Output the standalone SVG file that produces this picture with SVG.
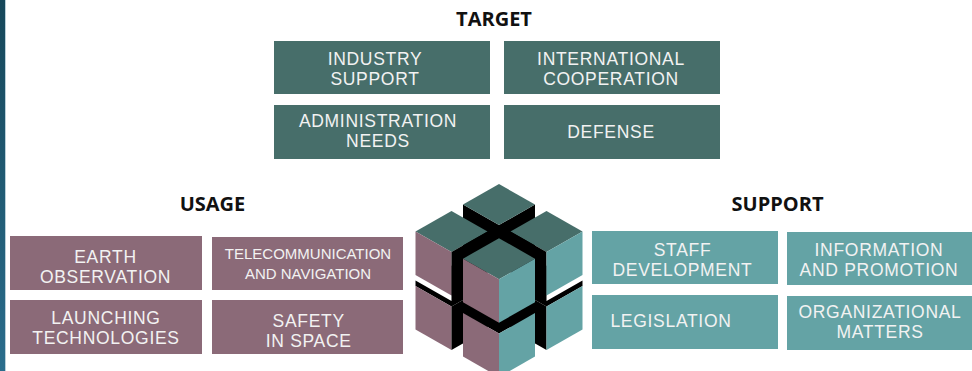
<svg xmlns="http://www.w3.org/2000/svg" width="972" height="371" viewBox="0 0 972 371">
<defs>
<linearGradient id="barGrad" x1="0" y1="0" x2="0" y2="1">
<stop offset="0" stop-color="#16475a"/>
<stop offset="1" stop-color="#2a6d8c"/>
</linearGradient>
</defs>
<style>
.hdr{font-family:"Open Sans","Liberation Sans",sans-serif;font-weight:700;font-size:20px;fill:#111;text-anchor:middle}
.lbl{font-family:"Liberation Sans",Arial,sans-serif;font-size:17.5px;letter-spacing:0.7px;fill:#f2f2f2;text-anchor:middle}
.sm{font-size:15px;letter-spacing:0}
.tgt{fill:#476e6a}
.use{fill:#8b6a78}
.sup{fill:#64a3a5}
.ct{fill:#476e6a}
.cl{fill:#8b6a78}
.cr{fill:#64a3a5}
.ck{fill:#000}
</style>
<rect width="972" height="371" fill="#ffffff"/>
<rect x="0" y="0" width="5" height="371" fill="url(#barGrad)"/>
<rect x="5" y="0" width="1" height="371" fill="#b9d0da"/>

<text id="hdr-target" class="hdr" x="494" y="26">TARGET</text>
<text id="hdr-usage" class="hdr" x="212.5" y="211">USAGE</text>
<text id="hdr-support" class="hdr" x="777.5" y="211">SUPPORT</text>

<g id="industry-support"><rect class="tgt" x="274" y="41" width="216" height="53"/><text class="lbl" x="375" y="65">INDUSTRY<tspan x="375" dy="20">SUPPORT</tspan></text></g>
<g id="international-cooperation"><rect class="tgt" x="504" y="41" width="216" height="53"/><text class="lbl" x="611" y="65">INTERNATIONAL<tspan x="611" dy="20">COOPERATION</tspan></text></g>
<g id="administration-needs"><rect class="tgt" x="274" y="105" width="216" height="54"/><text class="lbl" x="378" y="126.7">ADMINISTRATION<tspan x="378" dy="20">NEEDS</tspan></text></g>
<g id="defense"><rect class="tgt" x="504" y="105" width="216" height="54"/><text class="lbl" x="611" y="137.7">DEFENSE</text></g>

<g id="earth-observation"><rect class="use" x="10" y="236" width="192" height="54"/><text class="lbl" x="105.5" y="262.7">EARTH<tspan x="105.5" dy="20">OBSERVATION</tspan></text></g>
<g id="telecommunication"><rect class="use" x="212" y="237" width="191" height="53"/><text class="lbl sm" x="308" y="259">TELECOMMUNICATION<tspan x="308" dy="20">AND NAVIGATION</tspan></text></g>
<g id="launching-technologies"><rect class="use" x="10" y="300" width="192" height="54"/><text class="lbl" x="106" y="324.3">LAUNCHING<tspan x="106" dy="20">TECHNOLOGIES</tspan></text></g>
<g id="safety-in-space"><rect class="use" x="212" y="300" width="191" height="54"/><text class="lbl" x="308.7" y="326.7">SAFETY<tspan x="308.7" dy="20">IN SPACE</tspan></text></g>

<g id="staff-development"><rect class="sup" x="592" y="231" width="186" height="53"/><text class="lbl" x="682.5" y="255.7">STAFF<tspan x="682.5" dy="20.3">DEVELOPMENT</tspan></text></g>
<g id="information-promotion"><rect class="sup" x="787" y="232" width="185" height="53"/><text class="lbl" x="879" y="255.7">INFORMATION<tspan x="879" dy="20.3">AND PROMOTION</tspan></text></g>
<g id="legislation"><rect class="sup" x="592" y="295" width="186" height="54"/><text class="lbl" x="671" y="326.7">LEGISLATION</text></g>
<g id="organizational-matters"><rect class="sup" x="787" y="296" width="185" height="54"/><text class="lbl" x="880" y="318.3">ORGANIZATIONAL<tspan x="880" dy="20">MATTERS</tspan></text></g>

<g id="cube">
<g id="cube-bottom-left">
<polygon class="ck" points="415.5,280.5 451.5,301 451.5,265.5 487.5,286 451.5,306.5 415.5,286"/>
<polygon class="cl" points="415.5,286 451.5,306.5 451.5,350 415.5,329.5"/>
<polygon class="ck" points="487.5,286 451.5,306.5 451.5,350 487.5,329.5"/>
</g>
<g id="cube-bottom-right">
<polygon class="ck" points="582.5,280.5 546.5,301 546.5,265.5 510.5,286 546.5,306.5 582.5,286"/>
<polygon class="ck" points="510.5,286 546.5,306.5 546.5,350 510.5,329.5"/>
<polygon class="cr" points="582.5,286 546.5,306.5 546.5,350 582.5,329.5"/>
</g>
<g id="cube-bottom-front">
<polygon class="ck" points="499,292.6 535,313.1 499,333.6 463,313.1"/>
<polygon class="cl" points="463,313.1 499,333.6 499,377.1 463,356.6"/>
<polygon class="cr" points="535,313.1 499,333.6 499,377.1 535,356.6"/>
</g>
<g id="cube-top-back">
<polygon class="ck" points="463,204.5 499,225 499,268.5 463,248"/>
<polygon class="ck" points="535,204.5 499,225 499,268.5 535,248"/>
<polygon class="ct" points="499,184 535,204.5 499,225 463,204.5"/>
</g>
<g id="cube-top-left">
<polygon class="ct" points="451.5,211.1 487.5,231.6 451.5,252.1 415.5,231.6"/>
<polygon class="cl" points="415.5,231.6 451.5,252.1 451.5,295.6 415.5,275.1"/>
<polygon class="ck" points="487.5,231.6 451.5,252.1 451.5,295.6 487.5,275.1"/>
</g>
<g id="cube-top-right">
<polygon class="ct" points="546.5,211.1 582.5,231.6 546.5,252.1 510.5,231.6"/>
<polygon class="ck" points="510.5,231.6 546.5,252.1 546.5,295.6 510.5,275.1"/>
<polygon class="cr" points="582.5,231.6 546.5,252.1 546.5,295.6 582.5,275.1"/>
</g>
<g id="cube-top-front">
<polygon class="ct" points="499,238.2 535,258.7 499,279.2 463,258.7"/>
<polygon class="cl" points="463,258.7 499,279.2 499,322.7 463,302.2"/>
<polygon class="cr" points="535,258.7 499,279.2 499,322.7 535,302.2"/>
</g>
</g>
<g id="connectors"/>
</svg>
